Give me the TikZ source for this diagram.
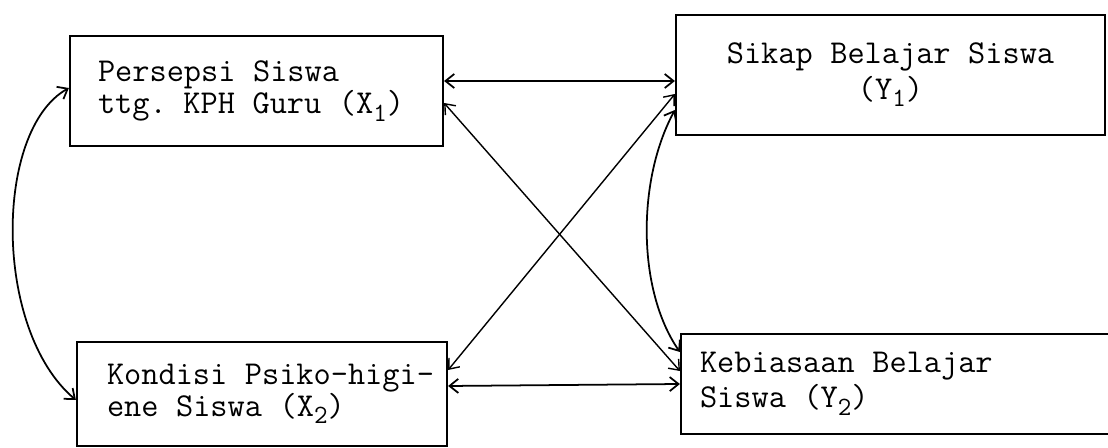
\documentclass[tikz,border=0pt]{standalone}
\usetikzlibrary{arrows.meta}

\newcommand{\idx}[1]{\raisebox{-0.55ex}{\fontsize{15}{15}\selectfont #1}}

\begin{document}
\begin{tikzpicture}[x=0.02cm, y=-0.02cm,
    box/.style={draw, line width=1.3pt, font=\ttfamily\fontsize{19}{18}\selectfont,
      execute at begin node={\spaceskip=0.525em\relax}},
    link/.style={{Straight Barb[length=5pt,width=8pt]}-{Straight Barb[length=5pt,width=8pt]}, line width=1pt},
    thinlink/.style={link, line width=0.8pt}]
        \useasboundingbox (0,0) rectangle (1108,448);
        \node[box, minimum width=7.46cm, minimum height=2.2cm, inner xsep=0.56cm, text width=6.34cm, align=left] (x1) at (256.5,91) {Persepsi Siswa\\ttg. KPH Guru (X\idx{1})};
        \node[box, minimum width=8.58cm, minimum height=2.4cm, text width=8cm, align=center] (y1) at (890.5,75) {Sikap Belajar Siswa\\[2pt](Y\idx{1})};
        \node[box, minimum width=7.4cm, minimum height=2.08cm, inner xsep=0.6cm, text width=6.2cm, align=left] (x2) at (262,394) {\mbox{Kondisi Psiko-higi-}\\ene Siswa (X\idx{2})};
        \node[box, minimum width=9.8cm, minimum height=2cm, inner xsep=0.38cm, text width=9.04cm, align=left] (y2) at (926,384) {Kebiasaan Belajar\\[2pt]Siswa (Y\idx{2})};
        \draw[link] ([yshift=0.2cm]x1.east) -- ([yshift=-0.12cm]y1.west);
        \draw[link] ([yshift=0.16cm]x2.east) -- (y2.west);
        \draw[thinlink] ([yshift=-0.24cm]x1.east) -- ([yshift=0.26cm]y2.west);
        \draw[thinlink] ([yshift=-0.38cm]y1.west) -- ([yshift=0.48cm]x2.east);
        \draw[link] ([yshift=0.06cm]x1.west) .. controls +(-75,42) and +(-83,-70) .. ([yshift=-0.12cm]x2.west);
        \draw[link] ([yshift=-0.7cm]y1.west) .. controls +(-38,70) and +(-43,-62) .. ([yshift=0.64cm]y2.west);
\end{tikzpicture}
\end{document}
